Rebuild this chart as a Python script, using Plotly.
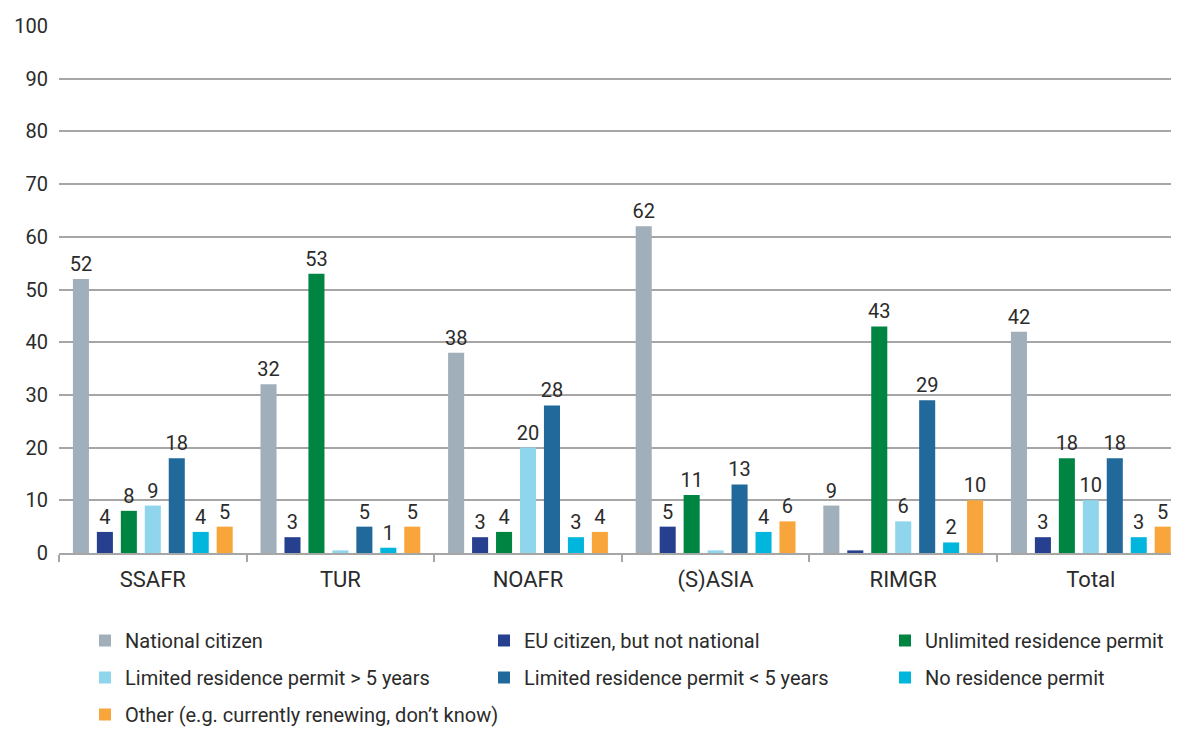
import plotly.graph_objects as go

categories = ["SSAFR", "TUR", "NOAFR", "(S)ASIA", "RIMGR", "Total"]

series_names = [
    "National citizen",
    "EU citizen, but not national",
    "Unlimited residence permit",
    "Limited residence permit > 5 years",
    "Limited residence permit < 5 years",
    "No residence permit",
    "Other (e.g. currently renewing, don’t know)",
]

national_citizen = [52, 32, 38, 62, 9, 42]
eu_citizen = [4, 3, 3, 5, 0.5, 3]
unlimited_permit = [8, 53, 4, 11, 43, 18]
limited_over_5 = [9, 0.5, 20, 0.5, 6, 10]
limited_under_5 = [18, 5, 28, 13, 29, 18]
no_permit = [4, 1, 3, 4, 2, 3]
other = [5, 5, 4, 6, 10, 5]

series_values = [national_citizen, eu_citizen, unlimited_permit, limited_over_5,
                 limited_under_5, no_permit, other]

colors = ["#a0afba", "#26408f", "#008442", "#8fd6ec", "#22699b", "#00b6dd", "#f8a63c"]
legend_ids = ["legend", "legend2", "legend3", "legend", "legend2", "legend3", "legend"]

FONT = "Roboto"
TXT = "#2b2b2b"
W, H = 1171, 721  # page body has an 8px margin

fig = go.Figure()
for i, (name, vals, col) in enumerate(zip(series_names, series_values, colors)):
    labels = [str(int(v)) if v >= 1 else "" for v in vals]
    fig.add_trace(go.Bar(
        x=categories, y=vals, name=name,
        marker=dict(color=col, line=dict(width=0)),
        text=labels, textposition="outside", cliponaxis=False,
        constraintext="none",
        textfont=dict(size=20, color=TXT, family=FONT),
        hoverinfo="skip",
        legend=legend_ids[i], legendgroup=name,
    ))

def leg(xpx, ypx):
    return dict(
        orientation="v", xref="container", yref="container",
        x=xpx / W, xanchor="left", y=1 - ypx / H, yanchor="top",
        font=dict(size=20, color=TXT, family=FONT),
        traceorder="grouped", tracegroupgap=8, itemclick=False,
        bgcolor="rgba(0,0,0,0)",
    )

fig.update_layout(
    width=W, height=H,
    margin=dict(l=51, r=0, t=18, b=176, autoexpand=False),
    paper_bgcolor="white", plot_bgcolor="white",
    barmode="group", bargap=0.106, bargroupgap=0.33,
    font=dict(family=FONT, size=20, color=TXT),
    legend=leg(77, 613),
    legend2=leg(476, 613),
    legend3=leg(877, 613),
    showlegend=True,
)
fig.update_xaxes(
    range=[-0.5, 5.47], automargin=False,
    showline=True, linecolor="#a6a6a6", linewidth=1.5,
    ticks="outside", tickson="boundaries", ticklen=7, tickcolor="#a6a6a6", tickwidth=1.5,
    ticklabelstandoff=6,
    tickfont=dict(size=22, color=TXT, family=FONT),
    showgrid=False,
)
fig.update_yaxes(
    range=[0, 100], dtick=10, tick0=0, automargin=False,
    showgrid=True, gridcolor="#a6a6a6", gridwidth=1.5,
    zeroline=False,
    ticks="", ticklabelstandoff=10,
    tickfont=dict(size=20, color=TXT, family=FONT),
)

fig.write_html("out.html")
